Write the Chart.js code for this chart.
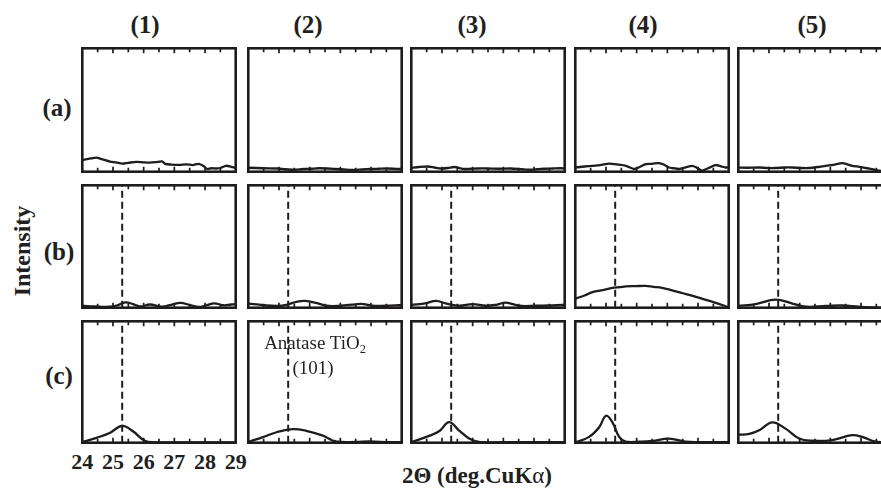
<!DOCTYPE html>
<html><head><meta charset="utf-8">
<script src="https://cdn.jsdelivr.net/npm/chart.js@4"></script>
<style>
html,body{margin:0;padding:0;background:#fff;overflow:hidden;width:881px;height:489px;}
#wrap{position:relative;width:881px;height:489px;overflow:hidden;}
canvas.p{position:absolute;}
.t{position:absolute;transform:translate(-50%,-50%);white-space:nowrap;line-height:1;font-family:"Liberation Serif","Times New Roman",serif;color:#231f20;}
.b{font-weight:bold;}
</style></head><body><div id="wrap"></div>
<script>
// ---------- data ----------
const columnTitles = ['(1)','(2)','(3)','(4)','(5)'];
const rowTitles = ['(a)','(b)','(c)'];
const tickValues = [24,25,26,27,28,29];
const tickLabels = ['24','25','26','27','28','29'];
const yAxisTitle = 'Intensity';
const anatasePeak = 25.3;
const anataseLabel = 'Anatase TiO';
const anataseIndex = '(101)';

// row (a)  [2θ, intensity]
const a1 = [[24.0,9.4],[24.15,10.2],[24.3,10.8],[24.46,11.4],[24.6,10.4],[24.75,9.4],[24.9,8.2],[25.1,7.6],[25.3,6.6],[25.5,7.2],[25.76,8.0],[26.0,7.6],[26.2,7.4],[26.4,7.8],[26.6,8.4],[26.7,6.4],[26.9,5.8],[27.17,5.6],[27.4,6.0],[27.6,5.4],[27.8,6.4],[27.95,4.6],[28.07,2.2],[28.2,2.8],[28.36,2.6],[28.5,3.0],[28.68,4.8],[28.85,4.0],[29.0,3.0]];
const a2 = [[24.0,3.2],[24.5,2.8],[24.96,2.6],[25.2,2.0],[25.5,1.6],[25.8,2.2],[26.04,2.4],[26.3,2.8],[26.58,2.6],[26.85,2.2],[27.12,1.8],[27.45,1.4],[27.7,1.8],[27.99,2.2],[28.25,2.4],[28.53,2.6],[28.9,2.2],[29.0,2.4]];
const a3 = [[24.0,3.2],[24.25,3.8],[24.54,4.2],[24.75,3.4],[24.97,2.6],[25.2,3.0],[25.4,3.8],[25.73,2.2],[25.95,2.4],[26.16,2.6],[26.48,2.6],[26.85,2.4],[27.24,2.6],[27.6,2.0],[27.89,1.6],[28.1,2.0],[28.32,2.4],[28.6,2.6],[28.86,2.8],[29.0,2.6]];
const a4 = [[24.0,3.4],[24.3,4.2],[24.56,4.8],[24.85,5.6],[25.1,6.6],[25.4,5.8],[25.65,4.8],[25.92,2.2],[26.1,3.8],[26.3,6.2],[26.5,6.4],[26.73,7.0],[26.9,5.6],[27.05,3.4],[27.2,2.8],[27.38,2.2],[27.6,3.6],[27.81,4.8],[27.95,3.4],[28.13,0.8],[28.35,3.0],[28.57,5.4],[28.75,4.4],[28.9,3.4],[29.0,3.6]];
const a5 = [[24.0,3.4],[24.3,3.2],[24.68,3.4],[24.95,3.0],[25.22,3.0],[25.5,3.4],[25.76,3.4],[26.05,3.0],[26.31,3.0],[26.6,3.8],[26.85,4.8],[27.1,5.6],[27.39,7.0],[27.55,6.0],[27.71,4.8],[27.95,4.0],[28.15,3.0],[28.4,1.8],[28.58,0.8],[28.8,0.4],[29.0,0.4]];

// row (b)
const b1 = [[24.0,1.6],[24.4,1.0],[24.9,0.8],[25.15,2.0],[25.4,4.4],[25.65,3.0],[25.9,1.0],[26.2,2.6],[26.6,0.8],[26.95,2.8],[27.2,4.0],[27.5,2.2],[27.8,0.6],[28.05,2.0],[28.3,3.6],[28.6,2.0],[28.85,2.6],[29.0,3.0]];
const b2 = [[24.0,3.4],[24.5,2.0],[24.95,1.4],[25.25,2.4],[25.6,5.0],[25.85,5.6],[26.2,4.0],[26.55,1.6],[27.0,1.6],[27.5,2.8],[27.75,3.0],[28.05,1.6],[28.5,1.6],[28.9,2.0],[29.0,2.2]];
const b3 = [[24.0,2.2],[24.49,3.8],[24.81,5.6],[25.14,3.4],[25.57,1.6],[26.0,3.0],[26.43,1.6],[26.8,2.6],[27.08,4.2],[27.52,1.6],[28.06,1.6],[28.5,1.8],[28.93,2.2],[29.0,2.2]];
const b4 = [[24.0,7.4],[24.3,10.0],[24.56,12.8],[24.9,14.4],[25.21,16.2],[25.45,16.8],[25.65,17.4],[25.95,17.6],[26.29,17.8],[26.55,17.0],[26.83,16.2],[27.15,14.2],[27.48,12.0],[27.8,9.8],[28.13,7.4],[28.55,4.2],[29.0,0.4]];
const b5 = [[24.0,1.4],[24.57,3.0],[25.22,6.6],[25.76,3.4],[26.2,0.8],[26.85,1.4],[27.39,1.8],[27.93,0.8],[28.58,0.0],[29.0,0.0]];

// row (c)
const c1 = [[24.0,0.4],[24.46,4.0],[24.89,8.0],[25.3,13.8],[25.65,9.4],[25.97,2.6],[26.14,0.6],[26.5,0.2],[27.5,0.2],[29.0,0.2]];
const c2 = [[24.0,0.6],[24.48,4.6],[24.92,8.6],[25.45,11.2],[25.89,9.8],[26.43,5.8],[26.86,1.0],[27.51,0.6],[27.94,1.0],[28.59,0.4],[29.0,0.4]];
const c3 = [[24.0,0.4],[24.6,5.8],[24.93,9.8],[25.23,17.0],[25.57,9.8],[25.9,3.2],[26.22,0.6],[27.0,0.4],[28.0,0.4],[29.0,0.4]];
const c4 = [[24.0,0.2],[24.45,4.8],[24.78,12.8],[25.0,22.2],[25.21,16.8],[25.43,4.8],[25.65,0.8],[26.08,0.8],[26.51,1.4],[27.05,3.4],[27.6,0.8],[28.02,0.4],[29.0,0.4]];
const c5 = [[24.0,6.6],[24.36,7.2],[24.68,10.2],[25.11,16.8],[25.55,11.4],[25.98,3.4],[26.41,1.6],[27.06,2.2],[27.71,6.2],[28.04,4.8],[28.47,0.8],[28.8,0.4],[29.0,0.2]];

const series = [[a1,a2,a3,a4,a5],[b1,b2,b3,b4,b5],[c1,c2,c3,c4,c5]];

// ---------- layout ----------
const INK = '#1e1c1d';
const colLeft = [81,247,410,574,737], colW = 156;
const rowTop = [47,184,320], rowH = [126,125,124];
const wrap = document.getElementById('wrap');

function addText(html, x, y, size, bold, extra){
  const d = document.createElement('div');
  d.className = 't' + (bold ? ' b' : '');
  d.style.left = x + 'px'; d.style.top = y + 'px'; d.style.fontSize = size + 'px';
  if (extra) d.style.cssText += extra;
  d.innerHTML = html;
  wrap.appendChild(d);
  return d;
}

const frame = {
  id: 'frame',
  afterDatasetsDraw(chart){
    const {ctx, chartArea:a, scales:{x}} = chart;
    ctx.save();
    ctx.strokeStyle = INK;
    ctx.lineWidth = 1.7;
    for (let v = 24.5; v < 29; v += 0.5){
      const px = x.getPixelForValue(v);
      const L = Number.isInteger(v) ? 5 : 4;
      ctx.beginPath();
      ctx.moveTo(px, a.top); ctx.lineTo(px, a.top + L);
      ctx.moveTo(px, a.bottom); ctx.lineTo(px, a.bottom - L);
      ctx.stroke();
    }
    ctx.lineWidth = 2.6;
    ctx.strokeRect(a.left, a.top, a.right - a.left, a.bottom - a.top);
    ctx.restore();
  }
};

const charts = [];
for (let r = 0; r < 3; r++){
  charts.push([]);
  for (let c = 0; c < 5; c++){
    const cv = document.createElement('canvas');
    cv.className = 'p';
    cv.width = colW; cv.height = rowH[r];
    cv.style.left = colLeft[c] + 'px'; cv.style.top = rowTop[r] + 'px';
    wrap.appendChild(cv);
    const datasets = [{
      data: series[r][c].map(p => ({x:p[0], y:p[1]})),
      borderColor: INK, borderWidth: 2.3, pointRadius: 0,
      tension: r === 0 ? 0.25 : 0.4, fill: false
    }];
    if (r > 0){
      datasets.push({
        data: [{x:anatasePeak, y:0},{x:anatasePeak, y:100}],
        borderColor: INK, borderWidth: 2, borderDash: [7,4], pointRadius: 0, fill: false
      });
    }
    const ch = new Chart(cv, {
      type: 'line',
      data: {datasets},
      options: {
        responsive: false, animation: false, devicePixelRatio: 1,
        layout: {padding: 1.3},
        plugins: {legend:{display:false}, tooltip:{enabled:false}},
        scales: {
          x: {type:'linear', min:24, max:29, display:false},
          y: {type:'linear', min:0, max:100, display:false}
        }
      },
      plugins: [frame]
    });
    charts[r].push(ch);
  }
}

// column / row titles
const colTitleX = [145, 308, 472, 643, 812];
columnTitles.forEach((t,i) => addText(t, colTitleX[i], 24, 25, true));
const rowTitleY = [107, 251, 375];
const rowTitleX = [57, 59, 59];
rowTitles.forEach((t,i) => addText(t, rowTitleX[i], rowTitleY[i], 25, true));

// y-axis title
addText(yAxisTitle, 22, 251, 24, true, 'transform:translate(-50%,-50%) rotate(-90deg);');

// tick labels under panel (1)(c), positioned through the chart's x scale
const ref = charts[2][0];
tickValues.forEach((v,i) => {
  const px = ref.scales.x.getPixelForValue(v) + colLeft[0];
  addText(tickLabels[i], px, 462, 22, true);
});

// x-axis title
addText('2Θ (deg.CuK<span style="font-weight:normal">α</span>)', 477, 475, 23, true);

// annotation
addText(anataseLabel + '<sub style="font-size:0.65em;vertical-align:-0.3em;">2</sub>', 315, 344, 19, false);
addText(anataseIndex, 313, 367, 19, false);
</script>
</body></html>
